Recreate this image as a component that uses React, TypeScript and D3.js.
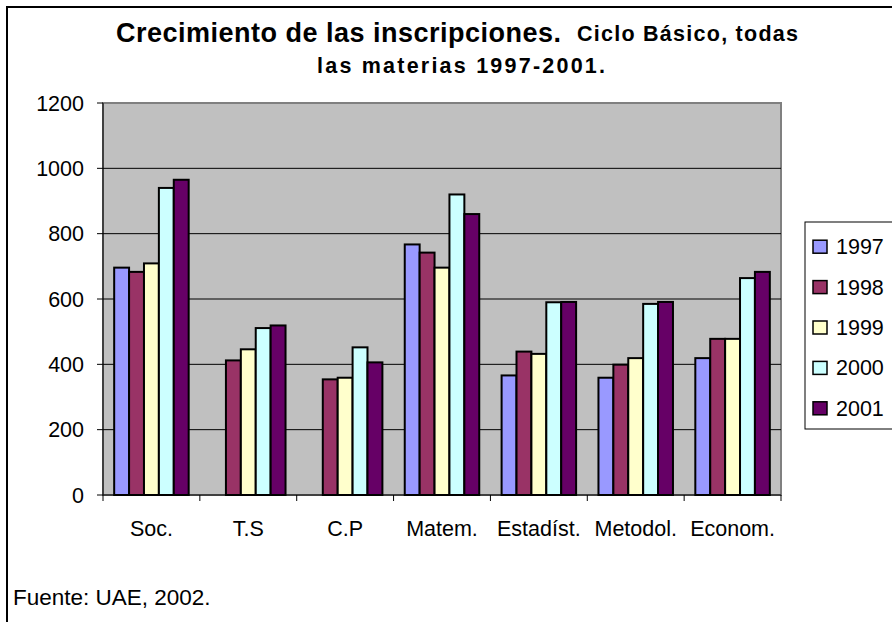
import React from 'react';
import * as d3 from 'd3';

const categories = ['Soc.', 'T.S', 'C.P', 'Matem.', 'Estadíst.', 'Metodol.', 'Econom.'];
const years = ['1997', '1998', '1999', '2000', '2001'];
const colors = ['#9999FF', '#993366', '#FFFFCC', '#CCFFFF', '#660066'];

// values per year, one per category (null = no bar)
const v1997 = [696, null, null, 767, 366, 359, 419];
const v1998 = [683, 412, 354, 742, 439, 399, 478];
const v1999 = [709, 446, 359, 696, 432, 419, 478];
const v2000 = [940, 511, 452, 920, 590, 585, 664];
const v2001 = [965, 519, 406, 860, 591, 591, 683];
const series = [v1997, v1998, v1999, v2000, v2001];

const yTicks = [0, 200, 400, 600, 800, 1000, 1200];

const font = '"Liberation Sans", Arial, sans-serif';

export default function App() {
  const W = 892, H = 622;
  const left = 103, right = 781, top = 103, bottom = 495;

  const x = d3.scaleBand<string>().domain(categories).range([left, right]).padding(0);
  const xs = d3.scaleBand<string>().domain(years).range([0, x.bandwidth()])
    .paddingInner(0).paddingOuter(0.75);
  const y = d3.scaleLinear().domain([0, 1200]).range([bottom, top]);

  const xTicks = categories.map(c => x(c) as number).concat([right]);

  return (
    <svg width={W} height={H} style={{ position: 'absolute', left: 0, top: 0 }}>
      <rect x={0} y={0} width={W} height={H} fill="#fff" />
      {/* chart frame */}
      <path d={`M7,${H} V7 H${W}`} fill="none" stroke="#000" strokeWidth={2} />

      {/* title */}
      <text x={116} y={41.5} fontFamily={font} fontWeight="bold" fontSize={27} fill="#000"
        textLength={445} lengthAdjust="spacing">Crecimiento de las inscripciones.</text>
      <text x={577} y={41} fontFamily={font} fontWeight="bold" fontSize={21.5} fill="#000"
        textLength={221} lengthAdjust="spacing">Ciclo Básico, todas</text>
      <text x={317} y={73} fontFamily={font} fontWeight="bold" fontSize={21.5} fill="#000"
        textLength={288} lengthAdjust="spacing">las materias 1997-2001.</text>

      {/* plot area */}
      <rect x={left} y={top} width={right - left} height={bottom - top} fill="#C0C0C0" stroke="#808080" strokeWidth={2} />
      {yTicks.filter(t => t > 0 && t < 1200).map(t => (
        <line key={t} x1={left} x2={right} y1={y(t)} y2={y(t)} stroke="#000" strokeWidth={1} />
      ))}

      {/* bars */}
      {categories.map((c, i) => (
        <g key={c} transform={`translate(${x(c)},0)`}>
          {series.map((s, j) => s[i] == null ? null : (
            <rect key={j}
              x={xs(years[j])} y={y(s[i] as number)}
              width={xs.bandwidth()} height={bottom - y(s[i] as number)}
              fill={colors[j]} stroke="#000" strokeWidth={2} />
          ))}
        </g>
      ))}

      {/* axes */}
      <line x1={left} x2={left} y1={top} y2={bottom} stroke="#000" strokeWidth={1} />
      <line x1={left} x2={right} y1={bottom} y2={bottom} stroke="#000" strokeWidth={1} />
      {yTicks.map(t => (
        <g key={t}>
          <line x1={left - 6} x2={left} y1={y(t)} y2={y(t)} stroke="#000" />
          <text x={84} y={y(t)} dy="0.35em" textAnchor="end" fontFamily={font} fontSize={21.5} fill="#000">{t}</text>
        </g>
      ))}
      {xTicks.map((t, i) => (
        <line key={i} x1={t} x2={t} y1={bottom} y2={bottom + 6} stroke="#000" />
      ))}
      {categories.map(c => (
        <text key={c} x={(x(c) as number) + x.bandwidth() / 2} y={536} textAnchor="middle"
          fontFamily={font} fontSize={21.5} fill="#000">{c}</text>
      ))}

      {/* legend */}
      <rect x={805} y={222} width={100} height={207} fill="#fff" stroke="#000" strokeWidth={1} />
      {years.map((yr, j) => {
        const cy = 246.7 + j * 40.4;
        return (
          <g key={yr}>
            <rect x={813} y={cy - 6.5} width={14} height={13} fill={colors[j]} stroke="#000" strokeWidth={1.5} />
            <text x={836} y={cy} dy="0.35em" fontFamily={font} fontSize={21.5} fill="#000">{yr}</text>
          </g>
        );
      })}

      {/* source */}
      <text x={13} y={605} fontFamily={font} fontSize={22.5} fill="#000">Fuente: UAE, 2002.</text>
    </svg>
  );
}
